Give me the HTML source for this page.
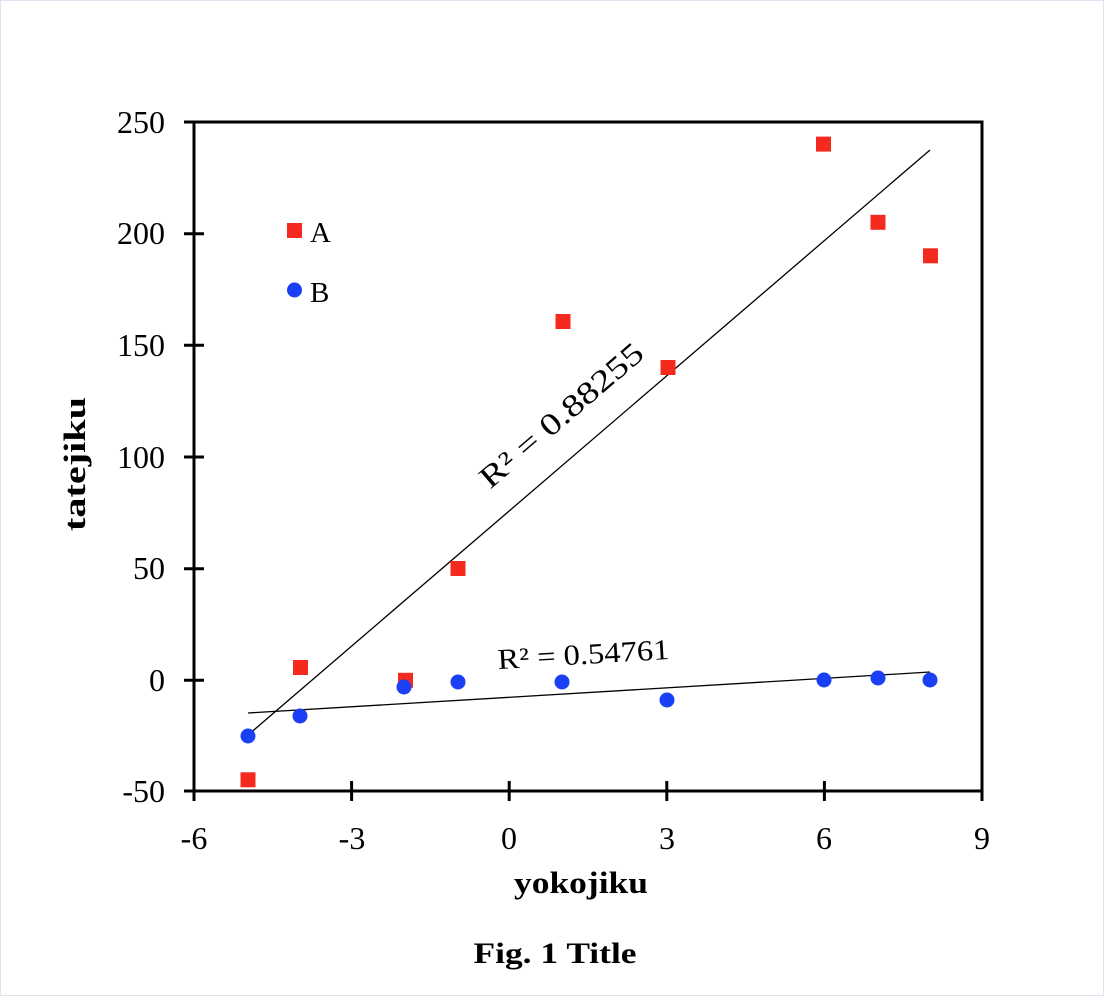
<!DOCTYPE html>
<html><head><style>
body{margin:0;background:#fff;}
svg{display:block;font-family:"Liberation Serif",serif;}
</style></head><body>
<svg width="1104" height="996" viewBox="0 0 1104 996" xmlns="http://www.w3.org/2000/svg">
<rect x="0.5" y="0.5" width="1103" height="995" fill="#fff" stroke="#dde4f0"/>
<g stroke="#000" stroke-width="3" fill="none">
<rect x="194" y="122" width="788" height="669"/>
<path d="M184 122H204M184 233.7H204M184 345.3H204M184 457H204M184 568.7H204M184 680.3H204M184 791H204"/>
<path d="M194 781V801M351.6 781V801M509.2 781V801M666.8 781V801M824.4 781V801M982 781V801"/>
</g>
<g font-size="32" text-anchor="end">
<text x="165" y="133">250</text><text x="165" y="244">200</text><text x="165" y="356">150</text>
<text x="165" y="468">100</text><text x="165" y="579">50</text><text x="165" y="691">0</text><text x="165" y="802">-50</text>
</g>
<g font-size="32" text-anchor="middle">
<text x="194" y="849">-6</text><text x="352" y="849">-3</text><text x="509" y="849">0</text>
<text x="667" y="849">3</text><text x="824" y="849">6</text><text x="982" y="849">9</text>
</g>
<text x="581" y="893" font-size="31" font-weight="bold" text-anchor="middle" textLength="134" lengthAdjust="spacingAndGlyphs">yokojiku</text>
<text transform="translate(85,464) rotate(-90)" font-size="31" font-weight="bold" text-anchor="middle" textLength="134" lengthAdjust="spacingAndGlyphs">tatejiku</text>
<text x="555" y="963" font-size="30" font-weight="bold" text-anchor="middle" textLength="163" lengthAdjust="spacingAndGlyphs">Fig. 1 Title</text>
<g stroke="#000" stroke-width="1.3">
<line x1="248" y1="735" x2="930" y2="150"/>
<line x1="248" y1="713" x2="930" y2="672"/>
</g>
<text transform="translate(568,423) rotate(-40.6)" font-size="31" text-anchor="middle" textLength="205" lengthAdjust="spacingAndGlyphs">R² = 0.88255</text>
<text transform="translate(584,664) rotate(-3.4)" font-size="29" text-anchor="middle" textLength="172" lengthAdjust="spacingAndGlyphs">R² = 0.54761</text>
<g fill="#f52a1f">
<rect x="240.5" y="772.3" width="15" height="15"/>
<rect x="293" y="660" width="15" height="15"/>
<rect x="398" y="672.8" width="15" height="15"/>
<rect x="450.5" y="561" width="15" height="15"/>
<rect x="555.5" y="314" width="15" height="15"/>
<rect x="660.5" y="360" width="15" height="15"/>
<rect x="816" y="136.6" width="15" height="15"/>
<rect x="870.5" y="214.8" width="15" height="15"/>
<rect x="923" y="248.3" width="15" height="15"/>
<rect x="287" y="223" width="15" height="15"/>
</g>
<g fill="#1a3ff5">
<circle cx="248" cy="736" r="7.5"/>
<circle cx="300" cy="716" r="7.5"/>
<circle cx="404" cy="687" r="7.5"/>
<circle cx="458" cy="682" r="7.5"/>
<circle cx="562" cy="682" r="7.5"/>
<circle cx="667" cy="700" r="7.5"/>
<circle cx="824" cy="680" r="7.5"/>
<circle cx="878" cy="678" r="7.5"/>
<circle cx="930" cy="680" r="7.5"/>
<circle cx="294.5" cy="290" r="7.5"/>
</g>
<text x="310" y="242" font-size="29">A</text>
<text x="310" y="302" font-size="29">B</text>
</svg>
</body></html>
